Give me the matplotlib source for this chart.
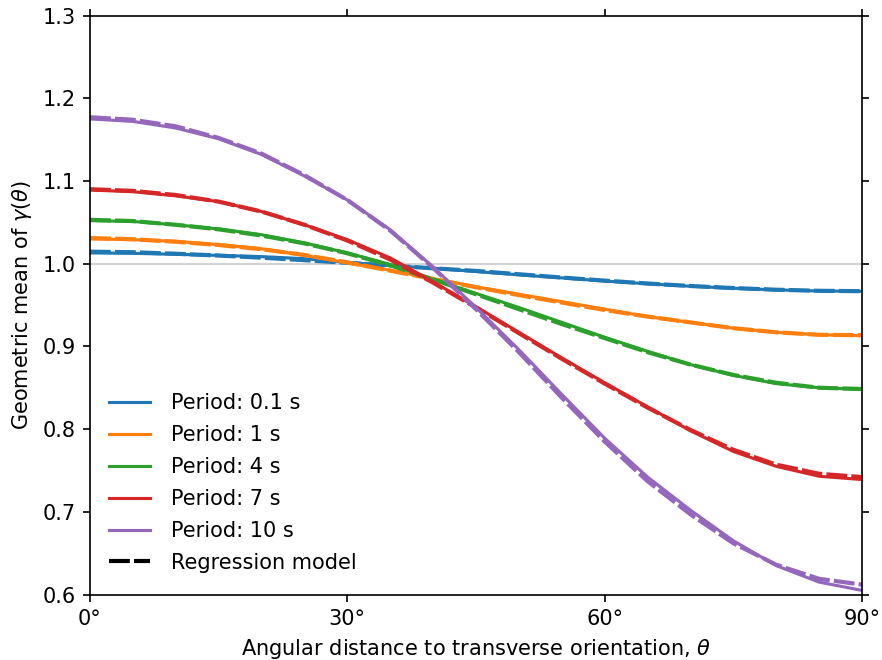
import matplotlib
matplotlib.use('Agg')
import matplotlib.pyplot as plt
from matplotlib.lines import Line2D

# angle from transverse orientation (deg)
theta = [0, 5, 10, 15, 20, 25, 30, 35, 40, 45, 50, 55, 60, 65, 70, 75, 80, 85, 90]

periods = ['0.1', '1', '4', '7', '10']

# geometric mean of gamma(theta)
gm_01 = [1.013, 1.0125, 1.0113, 1.010, 1.0085, 1.006, 1.0017, 0.9976, 0.9945, 0.9905,
         0.9865, 0.9828, 0.979, 0.9757, 0.9727, 0.9703, 0.9683, 0.967, 0.9665]
gm_1 = [1.030, 1.029, 1.027, 1.023, 1.018, 1.010, 1.001, 0.992, 0.982, 0.972,
        0.963, 0.954, 0.945, 0.936, 0.929, 0.922, 0.917, 0.914, 0.913]
gm_4 = [1.052, 1.051, 1.047, 1.042, 1.035, 1.025, 1.013, 0.999, 0.981, 0.964,
        0.947, 0.929, 0.911, 0.894, 0.878, 0.865, 0.855, 0.850, 0.848]
gm_7 = [1.089, 1.087, 1.082, 1.075, 1.063, 1.047, 1.029, 1.007, 0.978, 0.948,
        0.917, 0.886, 0.856, 0.827, 0.798, 0.773, 0.755, 0.743, 0.739]
gm_10 = [1.175, 1.172, 1.164, 1.151, 1.132, 1.106, 1.077, 1.041, 0.996, 0.947,
         0.896, 0.842, 0.789, 0.742, 0.702, 0.665, 0.635, 0.615, 0.605]

# regression model
reg_01 = [1.0145, 1.0138, 1.012, 1.0098, 1.0072, 1.0042, 1.001, 0.9977, 0.9944, 0.9912,
          0.9872, 0.9832, 0.9795, 0.976, 0.973, 0.9705, 0.9685, 0.9672, 0.9667]
reg_1 = [1.031, 1.0295, 1.0265, 1.0225, 1.0175, 1.0105, 1.0015, 0.9915, 0.9815, 0.9715,
         0.962, 0.953, 0.944, 0.936, 0.929, 0.922, 0.917, 0.914, 0.9135]
reg_4 = [1.053, 1.0515, 1.047, 1.0415, 1.034, 1.0245, 1.0125, 0.998, 0.981, 0.963,
         0.945, 0.927, 0.910, 0.893, 0.878, 0.8655, 0.856, 0.850, 0.8485]
reg_7 = [1.090, 1.088, 1.083, 1.075, 1.063, 1.047, 1.028, 1.005, 0.977, 0.947,
         0.916, 0.885, 0.855, 0.826, 0.799, 0.775, 0.757, 0.746, 0.742]
reg_10 = [1.177, 1.174, 1.166, 1.152, 1.133, 1.107, 1.077, 1.040, 0.995, 0.945,
          0.893, 0.838, 0.785, 0.737, 0.697, 0.662, 0.636, 0.619, 0.612]

x_ticks = [0, 30, 60, 90]
y_ticks = [0.6, 0.7, 0.8, 0.9, 1.0, 1.1, 1.2, 1.3]


if __name__ == '__main__':
    observed = [gm_01, gm_1, gm_4, gm_7, gm_10]
    model = [reg_01, reg_1, reg_4, reg_7, reg_10]

    fig = plt.figure(figsize=(5.88, 4.4), dpi=150)
    ax = fig.add_axes([0.102, 0.0992, 0.8753, 0.8773])

    ax.axhline(1.0, color='lightgray', lw=1, zorder=0)

    handles = []
    for i, (p, obs, reg) in enumerate(zip(periods, observed, model)):
        c = 'C%d' % i
        h, = ax.plot(theta, obs, color=c, lw=1.5, label='Period: %s s' % p)
        ax.plot(theta, reg, color=c, lw=2, dashes=(5, 1))
        handles.append(h)
    handles.append(Line2D([], [], color='black', lw=2, dashes=(5, 1),
                          label='Regression model'))

    ax.set_xlim(0, 90)
    ax.set_ylim(0.6, 1.3)
    ax.set_xticks(x_ticks)
    ax.set_xticklabels(['%d°' % t for t in x_ticks])
    ax.set_yticks(y_ticks)
    ax.set_yticklabels(['%.1f' % t for t in y_ticks])
    ax.tick_params(direction='out', top=True, right=True)

    ax.set_xlabel(r'Angular distance to transverse orientation, $\theta$')
    ax.set_ylabel(r'Geometric mean of $\gamma(\theta)$')
    ax.legend(handles=handles, loc='lower left', bbox_to_anchor=(0, 0.0052),
              frameon=False, labelspacing=0.57, handletextpad=1.0)

    fig.savefig('out.png', dpi=150)
